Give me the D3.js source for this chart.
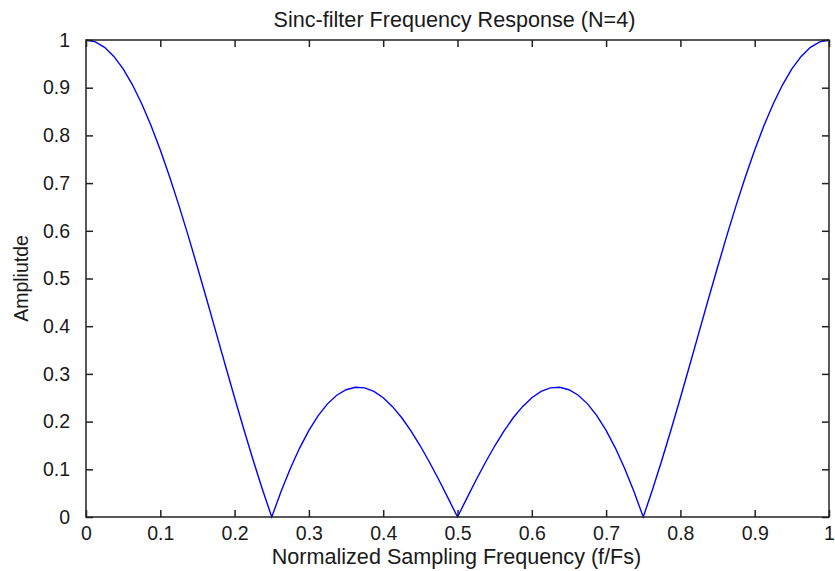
<!DOCTYPE html>
<html>
<head>
<meta charset="utf-8">
<script src="https://cdn.jsdelivr.net/npm/d3@7"></script>
<style>
  body { margin: 0; background: #fff; }
  text { font-family: "Liberation Sans", Arial, sans-serif; fill: #1a1a1a; }
</style>
</head>
<body>
<div id="chart"></div>
<script>
const amplitude = [
  1.0000, 0.9961, 0.9847, 0.9656, 0.9394, 0.9061, 0.8664, 0.8206, 0.7694, 0.7134,
  0.6533, 0.5898, 0.5237, 0.4559, 0.3871, 0.3182, 0.2500, 0.1833, 0.1190, 0.0576,
  0.0000, 0.0533, 0.1016, 0.1445, 0.1816, 0.2126, 0.2372, 0.2553, 0.2668, 0.2719,
  0.2706, 0.2632, 0.2500, 0.2314, 0.2080, 0.1802, 0.1488, 0.1143, 0.0775, 0.0391,
  0.0000, 0.0391, 0.0775, 0.1143, 0.1488, 0.1802, 0.2080, 0.2314, 0.2500, 0.2632,
  0.2706, 0.2719, 0.2668, 0.2553, 0.2372, 0.2126, 0.1816, 0.1445, 0.1016, 0.0533,
  0.0000, 0.0576, 0.1190, 0.1833, 0.2500, 0.3182, 0.3871, 0.4559, 0.5237, 0.5898,
  0.6533, 0.7134, 0.7694, 0.8206, 0.8664, 0.9061, 0.9394, 0.9656, 0.9847, 0.9961,
  1.0000
];
const freq = d3.range(amplitude.length).map(i => i / (amplitude.length - 1));

const xTicks = [0, 0.1, 0.2, 0.3, 0.4, 0.5, 0.6, 0.7, 0.8, 0.9, 1];
const yTicks = [0, 0.1, 0.2, 0.3, 0.4, 0.5, 0.6, 0.7, 0.8, 0.9, 1];

const title = "Sinc-filter Frequency Response (N=4)";
const xLabel = "Normalized Sampling Frequency (f/Fs)";
const yLabel = "Ampliutde";

let width = 835, height = 571;
const margin = {top: 40, right: 6, bottom: 54, left: 86};
const plotW = width - margin.left - margin.right;
const plotH = height - margin.top - margin.bottom;

const svg = d3.select("#chart")
    .append("svg")
    .attr("width", width)
    .attr("height", height);

const x = d3.scaleLinear().domain([0, 1]).range([0, plotW]);
const y = d3.scaleLinear().domain([0, 1]).range([plotH, 0]);

const g = svg.append("g")
    .attr("transform", `translate(${margin.left},${margin.top})`);

// curve first, the box and ticks sit on top like in matlab
const line = d3.line()
    .x((d, i) => x(freq[i]))
    .y(d => y(d));

g.append("path")
    .datum(amplitude)
    .attr("fill", "none")
    .attr("stroke", "#0000ff")
    .attr("stroke-width", 1.4)
    .attr("d", line);

const tickFmt = d => d3.format("~g")(d);
const tickFont = 19.5, labelFont = 21.6;

// bottom axis with inward ticks
const xAxis = g.append("g")
    .attr("transform", `translate(0,${plotH})`)
    .call(d3.axisBottom(x).tickValues(xTicks).tickFormat(tickFmt).tickSizeInner(-7).tickSizeOuter(0).tickPadding(9));
// top axis ticks only
const xTop = g.append("g")
    .call(d3.axisTop(x).tickValues(xTicks).tickFormat("").tickSizeInner(-7).tickSizeOuter(0));
// left axis
const yAxis = g.append("g")
    .call(d3.axisLeft(y).tickValues(yTicks).tickFormat(tickFmt).tickSizeInner(-7).tickSizeOuter(0).tickPadding(16));
// right axis ticks only
const yRight = g.append("g")
    .attr("transform", `translate(${plotW},0)`)
    .call(d3.axisRight(y).tickValues(yTicks).tickFormat("").tickSizeInner(-7).tickSizeOuter(0));

[xAxis, xTop, yAxis, yRight].forEach(a => {
    a.select(".domain").remove();
    a.selectAll("line").attr("stroke", "#222").attr("stroke-width", 1.5);
    a.selectAll("text")
        .attr("font-size", tickFont)
        .attr("font-family", "Liberation Sans, Arial, sans-serif")
        .attr("fill", "#1a1a1a");
});

// plot box
g.append("rect")
    .attr("width", plotW)
    .attr("height", plotH)
    .attr("fill", "none")
    .attr("stroke", "#222")
    .attr("stroke-width", 1.5);

svg.append("text")
    .attr("x", margin.left + plotW / 2 - 3)
    .attr("y", 27)
    .attr("text-anchor", "middle")
    .attr("font-size", labelFont)
    .text(title);

svg.append("text")
    .attr("x", margin.left + plotW / 2 - 1)
    .attr("y", 564)
    .attr("text-anchor", "middle")
    .attr("font-size", labelFont)
    .text(xLabel);

svg.append("text")
    .attr("transform", `translate(28,${margin.top + plotH / 2}) rotate(-90)`)
    .attr("text-anchor", "middle")
    .attr("font-size", tickFont)
    .text(yLabel);
</script>
</body>
</html>
